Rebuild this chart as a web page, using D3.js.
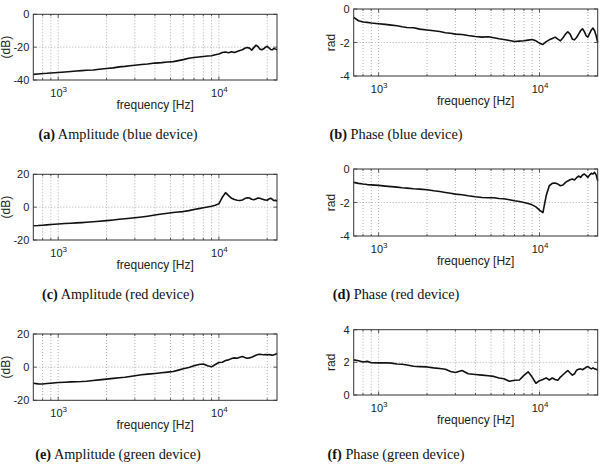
<!DOCTYPE html>
<html><head><meta charset="utf-8">
<script src="https://cdn.jsdelivr.net/npm/d3@7/dist/d3.min.js"></script>
<style>
html,body{margin:0;padding:0;background:#fff;}
svg{display:block;}
</style></head>
<body>
<svg id="chart" width="603" height="466"></svg>
<script>
// ---------- data ----------
const freqs = [700,750,800,850,900,1000,1100,1200,1300,1400,1500,1650,1800,2000,2200,2400,2600,2800,3000,3300,3600,4000,4400,4800,5200,5600,6000,6500,7000,7500,8000,8500,9000,9500,10000,10500,11000,11500,12000,12500,13000,13500,14000,14500,15000,15500,16000,16500,17000,17500,18000,18500,19000,19500,20000,20500,21000,21500,22000,22500,23000];

const ampBlue = [-36.6,-36.3,-36.0,-35.9,-35.7,-35.4,-35.1,-34.8,-34.5,-34.3,-34.1,-33.9,-33.5,-33.0,-32.6,-32.0,-31.7,-31.3,-31.0,-30.6,-30.3,-29.7,-29.4,-29.0,-28.8,-28.2,-27.6,-26.8,-26.3,-26.0,-25.7,-25.4,-25.2,-24.6,-24.2,-23.3,-23.0,-23.4,-22.8,-23.3,-22.6,-22.0,-21.6,-20.7,-20.2,-20.6,-21.8,-20.3,-18.8,-19.6,-21.2,-21.6,-21.0,-20.0,-19.5,-20.4,-21.4,-21.6,-20.8,-21.2,-21.6];

const phaseBlue = [-0.5,-0.7,-0.78,-0.8,-0.84,-0.88,-0.92,-0.96,-1.0,-1.06,-1.1,-1.12,-1.2,-1.25,-1.3,-1.34,-1.42,-1.45,-1.5,-1.52,-1.58,-1.64,-1.68,-1.66,-1.72,-1.78,-1.82,-1.88,-1.94,-1.92,-1.9,-1.86,-1.82,-1.9,-2.04,-2.12,-1.95,-1.84,-1.76,-1.68,-1.8,-1.9,-1.72,-1.5,-1.36,-1.5,-1.8,-1.84,-1.7,-1.5,-1.3,-1.18,-1.35,-1.6,-1.68,-1.45,-1.25,-1.14,-1.3,-1.6,-2.0];

const ampRed = [-11.3,-11.2,-11.0,-10.8,-10.6,-10.3,-10.0,-9.8,-9.6,-9.4,-9.2,-8.9,-8.6,-8.2,-7.8,-7.4,-7.1,-6.8,-6.5,-6.0,-5.5,-4.8,-4.2,-3.7,-3.3,-3.0,-2.7,-2.1,-1.4,-0.9,-0.4,0.1,0.6,1.2,2.0,6.0,8.8,7.0,5.4,4.6,4.2,4.0,4.4,5.2,5.7,5.6,4.8,4.5,5.0,5.5,5.4,5.0,4.6,4.4,4.2,5.0,5.4,4.8,4.0,4.2,3.6];

const phaseRed = [-0.8,-0.86,-0.9,-0.93,-0.95,-0.98,-1.02,-1.05,-1.08,-1.12,-1.14,-1.18,-1.2,-1.24,-1.3,-1.34,-1.4,-1.45,-1.5,-1.54,-1.6,-1.66,-1.7,-1.72,-1.72,-1.76,-1.78,-1.84,-1.9,-1.94,-2.0,-2.06,-2.14,-2.26,-2.45,-2.6,-1.6,-1.0,-0.86,-0.84,-0.9,-1.0,-0.96,-0.8,-0.72,-0.64,-0.6,-0.66,-0.52,-0.42,-0.5,-0.36,-0.3,-0.4,-0.5,-0.35,-0.26,-0.3,-0.2,-0.35,-0.7];

const ampGreen = [-9.7,-10.1,-10.2,-9.9,-9.7,-9.3,-9.1,-8.9,-8.8,-8.7,-8.5,-8.1,-7.7,-7.2,-6.8,-6.4,-6.1,-5.6,-5.2,-4.6,-4.2,-3.8,-3.4,-3.0,-2.6,-1.8,-1.0,-0.2,0.8,1.6,1.9,0.8,0.2,1.6,2.8,3.0,4.0,4.4,5.2,5.6,5.4,6.0,6.4,5.8,5.4,5.6,6.0,6.6,7.2,7.6,7.8,7.6,7.5,7.6,7.4,7.6,7.4,7.2,7.4,7.8,8.2];

const phaseGreen = [2.15,2.1,2.02,2.06,1.98,1.97,1.98,1.95,1.9,1.88,1.84,1.76,1.74,1.72,1.66,1.62,1.58,1.44,1.38,1.5,1.3,1.26,1.22,1.18,1.14,1.04,1.0,0.84,0.9,0.92,1.2,1.42,1.1,0.72,0.88,0.95,1.05,0.92,1.04,0.95,0.9,1.1,1.24,1.38,1.5,1.35,1.22,1.3,1.52,1.58,1.6,1.55,1.62,1.7,1.74,1.66,1.6,1.66,1.6,1.58,1.52];

const xDomain = [700, 23000];
const xMajorTicks = [1000, 10000];
const xMinorTicks = [800, 900, 2000, 3000, 4000, 5000, 6000, 7000, 8000, 9000, 20000];
const ampTicksBlue = [-40, -20, 0];
const ampTicks = [-20, 0, 20];
const phaseTicksNeg = [-4, -2, 0];
const phaseTicksPos = [0, 2, 4];
const xLabel = "frequency [Hz]";
const captionTags = ["(a)", "(b)", "(c)", "(d)", "(e)", "(f)"];
const captionTexts = ["Amplitude (blue device)", "Phase (blue device)", "Amplitude (red device)", "Phase (red device)", "Amplitude (green device)", "Phase (green device)"];
const yLabels = ["(dB)", "rad", "(dB)", "rad", "(dB)", "rad"];

// ---------- layout ----------
const panels = [
  {values: ampBlue,   ticks: ampTicksBlue,  left: 33.3,  top: 14.3,  w: 243.7, h: 65.7, capX: 118, capY: 139.3},
  {values: phaseBlue, ticks: phaseTicksNeg, left: 353.7, top: 9,     w: 244,   h: 67,   capX: 396, capY: 139.3},
  {values: ampRed,    ticks: ampTicks,      left: 33.3,  top: 174.3, w: 243.7, h: 65.7, capX: 118, capY: 299.3},
  {values: phaseRed,  ticks: phaseTicksNeg, left: 353.7, top: 169,   w: 244,   h: 67,   capX: 396, capY: 299.3},
  {values: ampGreen,  ticks: ampTicks,      left: 33.3,  top: 334,   w: 243.7, h: 66.3, capX: 118, capY: 459.3},
  {values: phaseGreen,ticks: phaseTicksPos, left: 353.7, top: 329.7, w: 244,   h: 65.3, capX: 396, capY: 459.3}
];

const svg = d3.select("#chart");
const sansFont = "'Liberation Sans', Arial, Helvetica, sans-serif";
const serifFont = "'Liberation Serif', 'Times New Roman', serif";
const textColor = "#222";

panels.forEach((p, i) => {
  const x = d3.scaleLog().domain(xDomain).range([0, p.w]);
  const y = d3.scaleLinear().domain([p.ticks[0], p.ticks[2]]).range([p.h, 0]);
  const g = svg.append("g").attr("transform", `translate(${p.left},${p.top})`);

  // grid
  const gridX = xMajorTicks.concat(xMinorTicks);
  g.selectAll(".gx").data(gridX).join("line")
    .attr("x1", d => x(d)).attr("x2", d => x(d)).attr("y1", 0).attr("y2", p.h)
    .attr("stroke", "#9a9a9a").attr("stroke-width", 0.8).attr("stroke-dasharray", "1,2");
  g.selectAll(".gy").data(p.ticks.slice(1, 2)).join("line")
    .attr("x1", 0).attr("x2", p.w).attr("y1", d => y(d)).attr("y2", d => y(d))
    .attr("stroke", "#9a9a9a").attr("stroke-width", 0.8).attr("stroke-dasharray", "1,2");

  // inner ticks (top & bottom)
  [[xMajorTicks, 3.5], [xMinorTicks, 2]].forEach(([tv, len]) => {
    g.selectAll(null).data(tv).join("line")
      .attr("x1", d => x(d)).attr("x2", d => x(d)).attr("y1", p.h).attr("y2", p.h - len)
      .attr("stroke", "#333").attr("stroke-width", 0.8);
    g.selectAll(null).data(tv).join("line")
      .attr("x1", d => x(d)).attr("x2", d => x(d)).attr("y1", 0).attr("y2", len)
      .attr("stroke", "#333").attr("stroke-width", 0.8);
  });
  g.selectAll(null).data(p.ticks).join("line")
    .attr("x1", 0).attr("x2", 3.5).attr("y1", d => y(d)).attr("y2", d => y(d))
    .attr("stroke", "#333").attr("stroke-width", 0.8);
  g.selectAll(null).data(p.ticks).join("line")
    .attr("x1", p.w).attr("x2", p.w - 3.5).attr("y1", d => y(d)).attr("y2", d => y(d))
    .attr("stroke", "#333").attr("stroke-width", 0.8);

  // data line
  const line = d3.line().x((d, k) => x(freqs[k])).y(d => y(d)).curve(d3.curveLinear);
  g.append("path").datum(p.values).attr("d", line)
    .attr("fill", "none").attr("stroke", "#111").attr("stroke-width", 1.6).attr("stroke-linejoin", "round");

  // box
  g.append("rect").attr("x", 0).attr("y", 0).attr("width", p.w).attr("height", p.h)
    .attr("fill", "none").attr("stroke", "#333").attr("stroke-width", 1);

  // y axis labels
  const yAxis = d3.axisLeft(y).tickValues(p.ticks).tickSize(0).tickPadding(4).tickFormat(d3.format("d"));
  const ya = g.append("g").call(yAxis);
  ya.select(".domain").remove();
  ya.selectAll("text").attr("font-family", sansFont).attr("font-size", 11).attr("fill", textColor)
    .text(d => (d < 0 ? "-" : "") + Math.abs(d));

  // x axis labels
  const xAxis = d3.axisBottom(x).tickValues(xMajorTicks).tickSize(0).tickPadding(0);
  const xa = g.append("g").attr("transform", `translate(0,${p.h})`).call(xAxis);
  xa.select(".domain").remove();
  xa.selectAll("text").attr("font-family", sansFont).attr("font-size", 11).attr("fill", textColor)
    .attr("dy", null).attr("y", 17)
    .each(function(d) {
      const t = d3.select(this);
      t.text("10");
      t.append("tspan").attr("dy", -5).attr("font-size", 8).text(Math.round(Math.log10(d)));
    });

  // axis titles
  g.append("text").attr("x", p.w / 2).attr("y", p.h + 29).attr("text-anchor", "middle")
    .attr("font-family", sansFont).attr("font-size", 12).attr("fill", textColor).text(xLabel);
  g.append("text").attr("transform", `translate(${(i % 2 === 0 ? 10 : 335) - p.left},${p.h / 2}) rotate(-90)`)
    .attr("text-anchor", "middle").attr("font-family", sansFont).attr("font-size", 12).attr("fill", textColor)
    .text(yLabels[i]);

  // caption
  const cap = svg.append("text").attr("x", p.capX).attr("y", p.capY).attr("text-anchor", "middle")
    .attr("font-family", serifFont).attr("font-size", 14.3).attr("fill", "#111");
  cap.append("tspan").attr("font-weight", "bold").text(captionTags[i]);
  cap.append("tspan").text(" " + captionTexts[i]);
});
</script>
</body></html>
